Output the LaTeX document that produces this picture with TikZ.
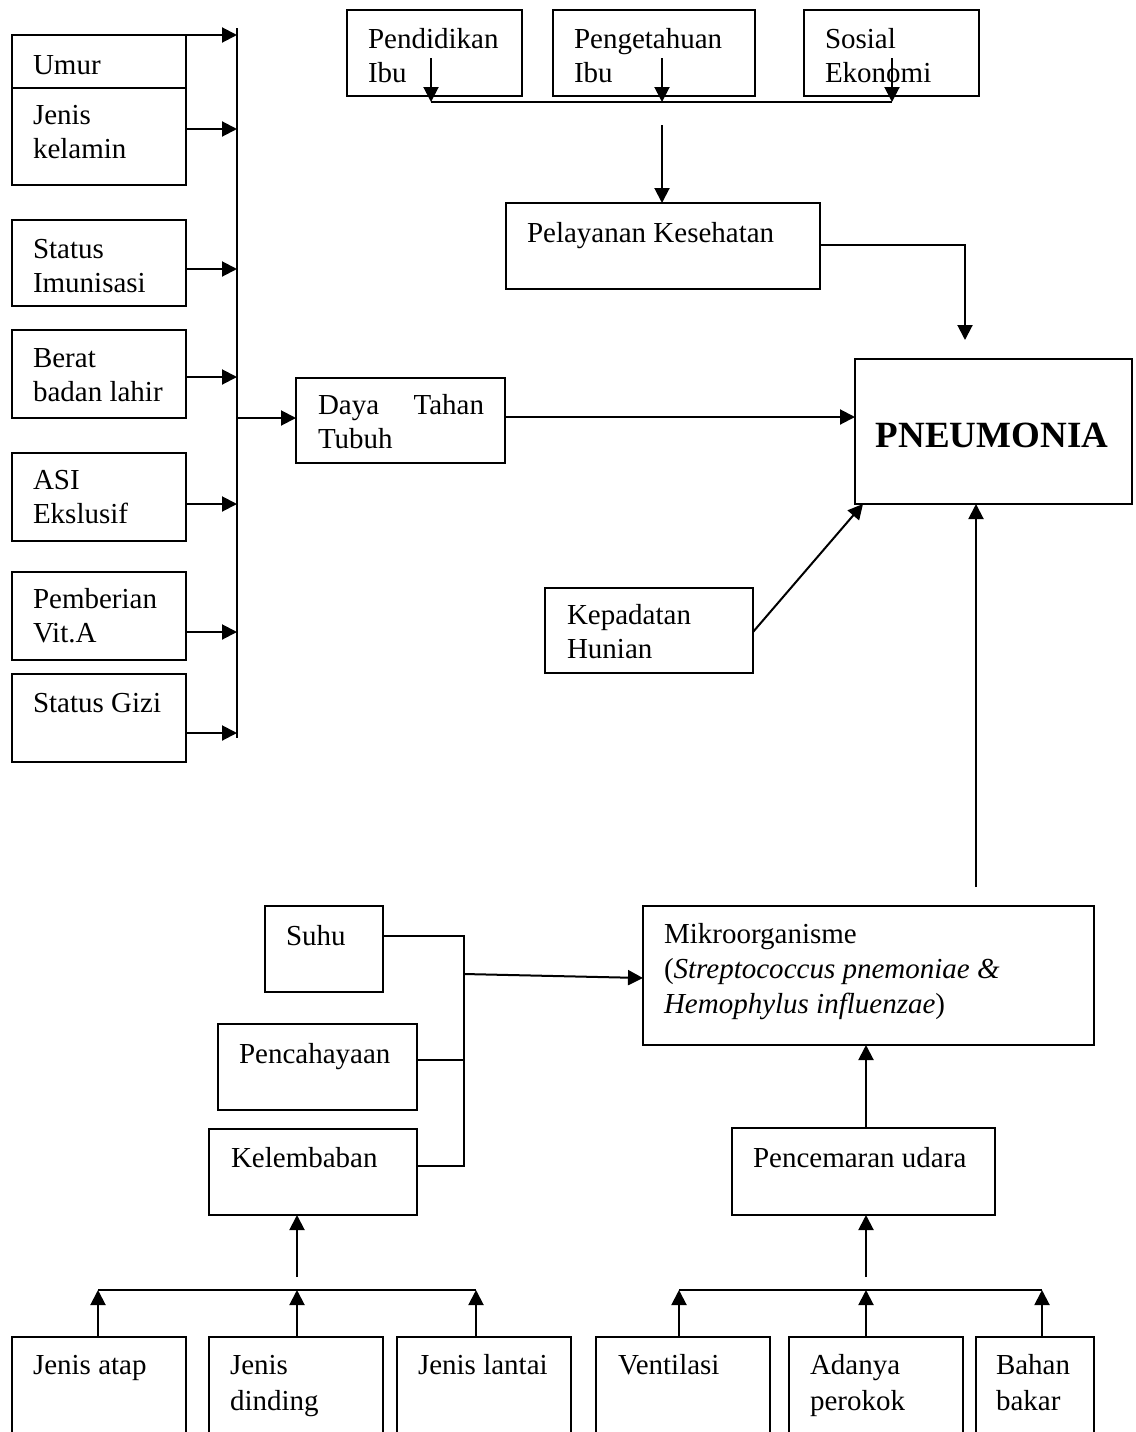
\documentclass[tikz,border=0pt]{standalone}
\usepackage{fontspec}
\setmainfont{Liberation Serif}
\usetikzlibrary{arrows.meta}
\tikzset{
  bx/.style={draw, line width=1.6pt, inner sep=0pt, outer sep=0pt},
  tx/.style={anchor=base west, align=left, inner sep=0pt, outer sep=0pt, font=\fontsize{29}{34}\selectfont},
  ar/.style={line width=2pt, -{Triangle[length=15pt,width=15pt]}},
  ln/.style={line width=2pt},
}
\newcommand\mkbox[5]{\node[bx, minimum width={(#4-(#2))*1pt}, minimum height={(#5-(#3))*1pt}] (#1) at ({(#2+#4)/2},{(#3+#5)/2}) {};}
\begin{document}
\begin{tikzpicture}[x=1pt, y=-1pt]
\useasboundingbox (0,0) rectangle (1135,1432);
\clip (0,0) rectangle (1135,1432);
% ---- boxes
\mkbox{umur}{12}{35}{186}{88}
\mkbox{jenis}{12}{88}{186}{185}
\mkbox{imun}{12}{220}{186}{306}
\mkbox{berat}{12}{330}{186}{418}
\mkbox{asi}{12}{453}{186}{541}
\mkbox{vita}{12}{572}{186}{660}
\mkbox{gizi}{12}{674}{186}{762}
\mkbox{daya}{296}{378}{505}{463}
\mkbox{pend}{347}{10}{522}{96}
\mkbox{peng}{553}{10}{755}{96}
\mkbox{sosial}{804}{10}{979}{96}
\mkbox{pelay}{506}{203}{820}{289}
\mkbox{pneu}{855}{359}{1132}{504}
\mkbox{kepad}{545}{588}{753}{673}
\mkbox{suhu}{265}{906}{383}{992}
\mkbox{cahaya}{218}{1024}{417}{1110}
\mkbox{lembab}{209}{1129}{417}{1215}
\mkbox{mikro}{643}{906}{1094}{1045}
\mkbox{cemar}{732}{1128}{995}{1215}
\mkbox{atap}{12}{1337}{186}{1470}
\mkbox{dinding}{209}{1337}{383}{1470}
\mkbox{lantai}{397}{1337}{571}{1470}
\mkbox{venti}{596}{1337}{770}{1470}
\mkbox{adanya}{789}{1337}{963}{1470}
\mkbox{bahan}{976}{1337}{1094}{1470}
% ---- texts (anchor = baseline of the last line)
\node[tx] (t-umur) at (33,74) {Umur};
\node[tx] (t-jenis) at (33,158) {Jenis\\kelamin};
\node[tx] (t-imun) at (33,292) {Status\\Imunisasi};
\node[tx] (t-berat) at (33,401) {Berat\\badan lahir};
\node[tx] (t-asi) at (33,523) {ASI\\Ekslusif};
\node[tx] (t-vita) at (33,642) {Pemberian\\Vit.A};
\node[tx] (t-gizi) at (33,712) {Status Gizi};
\node[tx] (t-daya) at (318,448) {\makebox[166pt][s]{Daya Tahan}\\Tubuh};
\node[tx] (t-pend) at (368,82) {Pendidikan\\Ibu};
\node[tx] (t-peng) at (574,82) {Pengetahuan\\Ibu};
\node[tx] (t-sosial) at (825,82) {Sosial\\Ekonomi};
\node[tx] (t-pelay) at (527,242) {Pelayanan Kesehatan};
\node[anchor=base, inner sep=0pt, font=\bfseries\fontsize{37}{40}\selectfont] (t-pneu) at (992,447) {PNEUMONIA};
\node[tx] (t-kepad) at (567,658) {Kepadatan\\Hunian};
\node[tx] (t-suhu) at (286,945) {Suhu};
\node[tx] (t-cahaya) at (239,1063) {Pencahayaan};
\node[tx] (t-lembab) at (231,1167) {Kelembaban};
\node[tx, font=\fontsize{29}{35}\selectfont] (t-mikro) at (664,1013) {Mikroorganisme\\(\textit{Streptococcus pnemoniae \&}\\\textit{Hemophylus influenzae})};
\node[tx] (t-cemar) at (753,1167) {Pencemaran udara};
\node[tx] (t-atap) at (33,1374) {Jenis atap};
\node[tx, font=\fontsize{29}{36}\selectfont] (t-dinding) at (230,1410) {Jenis\\dinding};
\node[tx] (t-lantai) at (418,1374) {Jenis lantai};
\node[tx] (t-venti) at (618,1374) {Ventilasi};
\node[tx, font=\fontsize{29}{36}\selectfont] (t-adanya) at (810,1410) {Adanya\\perokok};
\node[tx, font=\fontsize{29}{36}\selectfont] (t-bahan) at (996,1410) {Bahan\\bakar};
% ---- left bus
\coordinate (busT) at (237,28);
\coordinate (busB) at (237,738);
\draw[ln] (busT) -- (busB);
\draw[ar] (umur.north east) -- (umur.north east -| busT);
\draw[ar] (jenis.east |- 0,129) -- (busT |- 0,129);
\draw[ar] (imun.east |- 0,269) -- (busT |- 0,269);
\draw[ar] (berat.east |- 0,377) -- (busT |- 0,377);
\draw[ar] (asi.east |- 0,504) -- (busT |- 0,504);
\draw[ar] (vita.east |- 0,632) -- (busT |- 0,632);
\draw[ar] (gizi.east |- 0,733) -- (busT |- 0,733);
\draw[ar] (busT |- 0,418) -- (daya.west |- 0,418);
\draw[ar] (daya.east |- 0,417) -- (pneu.west |- 0,417);
% ---- top group
\coordinate (pA) at (431,58);
\coordinate (pB) at (662,58);
\coordinate (pC) at (892,58);
\coordinate (hL) at (431,102);
\coordinate (hR) at (892,102);
\draw[ln] (hL) -- (hR);
\draw[ar] (pA) -- (pA |- hL);
\draw[ar] (pB) -- (pB |- hL);
\draw[ar] (pC) -- (pC |- hL);
\coordinate (hM) at (662,125);
\draw[ar] (hM) -- (hM |- pelay.north);
\coordinate (pnTop) at (965,340);
\draw[ar] (pelay.east |- 0,245) -| (pnTop);
% ---- kepadatan and mikro to pneumonia
\draw[ar] (kepad.east |- 0,632) -- (pneu.south -| 863,0);
\coordinate (mkT) at (976,887);
\draw[ar] (mkT) -- (mkT |- pneu.south);
% ---- environment bracket
\coordinate (bk1) at (464,936);
\coordinate (bk2) at (464,1166);
\draw[ln] (suhu.east |- bk1) -- (bk1) -- (bk2) -- (lembab.east |- bk2);
\draw[ln] (cahaya.east |- 0,1060) -- (bk1 |- 0,1060);
\draw[ar] (bk1 |- 0,974) -- (mikro.west |- 0,978);
\draw[ar] (cemar.north -| 866,0) -- (mikro.south -| 866,0);
% ---- bottom left group
\coordinate (lb) at (297,1277);
\draw[ar] (lb) -- (lb |- lembab.south);
\coordinate (hbL) at (98,1290);
\coordinate (hbR) at (476,1290);
\draw[ln] (hbL) -- (hbR);
\draw[ar] (atap.north -| hbL) -- (hbL);
\draw[ar] (dinding.north -| lb) -- (lb |- hbL);
\draw[ar] (lantai.north -| hbR) -- (hbR);
% ---- bottom right group
\coordinate (rb) at (866,1277);
\draw[ar] (rb) -- (rb |- cemar.south);
\coordinate (hcL) at (679,1290);
\coordinate (hcR) at (1042,1290);
\draw[ln] (hcL) -- (hcR);
\draw[ar] (venti.north -| hcL) -- (hcL);
\draw[ar] (adanya.north -| rb) -- (rb |- hcL);
\draw[ar] (bahan.north -| hcR) -- (hcR);
\end{tikzpicture}
\end{document}
